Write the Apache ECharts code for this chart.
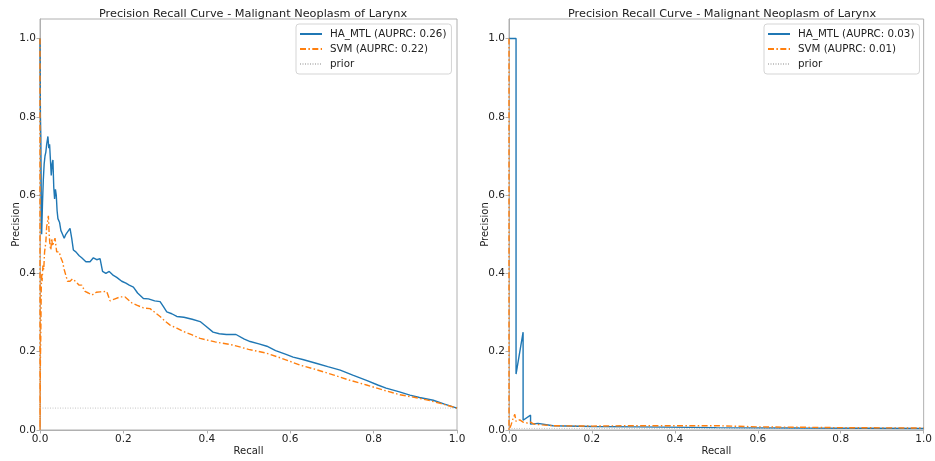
<!DOCTYPE html>
<html>
<head>
<meta charset="utf-8">
<script src="https://cdn.jsdelivr.net/npm/echarts@6/dist/echarts.min.js"></script>
<style>html,body{margin:0;padding:0;background:#fff;}#c{width:935px;height:461px;}</style>
</head>
<body>
<div id="c"></div>
<script>
// ---- data ----
const titleText = 'Precision Recall Curve - Malignant Neoplasm of Larynx';
const xTicks = [0, 0.2, 0.4, 0.6, 0.8, 1.0];
const yTicks = [0, 0.2, 0.4, 0.6, 0.8, 1.0];

const leftNames = ['HA_MTL (AUPRC: 0.26)', 'SVM (AUPRC: 0.22)', 'prior'];
const rightNames = ['HA_MTL (AUPRC: 0.03)', 'SVM (AUPRC: 0.01)', 'prior'];

const leftHaRecall = [0,0.001,0.001,0.002,0.003,0.004,0.006,0.008,0.010,0.012,0.014,0.016,0.019,0.021,0.023,0.025,0.027,0.029,0.031,0.033,0.035,0.037,0.039,0.041,0.043,0.047,0.050,0.054,0.058,0.062,0.066,0.072,0.076,0.080,0.086,0.094,0.100,0.110,0.120,0.128,0.136,0.144,0.150,0.158,0.166,0.176,0.184,0.196,0.206,0.214,0.224,0.234,0.248,0.260,0.275,0.288,0.296,0.304,0.316,0.328,0.345,0.365,0.384,0.398,0.415,0.430,0.447,0.470,0.490,0.504,0.525,0.544,0.565,0.590,0.607,0.630,0.664,0.690,0.720,0.750,0.783,0.810,0.830,0.860,0.887,0.910,0.943,0.970,1.0];
const leftHaPrec = [1.0,1.0,0.80,0.75,0.60,0.50,0.58,0.64,0.68,0.70,0.71,0.73,0.75,0.72,0.73,0.69,0.65,0.68,0.69,0.62,0.59,0.615,0.60,0.56,0.54,0.53,0.51,0.50,0.49,0.50,0.505,0.515,0.49,0.46,0.455,0.445,0.44,0.43,0.43,0.44,0.435,0.438,0.405,0.40,0.405,0.395,0.39,0.38,0.375,0.37,0.365,0.35,0.336,0.335,0.33,0.328,0.315,0.302,0.297,0.29,0.288,0.283,0.277,0.265,0.25,0.246,0.244,0.244,0.232,0.226,0.22,0.214,0.203,0.193,0.186,0.18,0.17,0.162,0.153,0.14,0.127,0.115,0.107,0.098,0.089,0.083,0.076,0.066,0.056];

const leftSvmRecall = [0,0,0.001,0.002,0.003,0.004,0.005,0.007,0.009,0.011,0.014,0.016,0.018,0.020,0.022,0.024,0.026,0.028,0.030,0.033,0.036,0.040,0.046,0.050,0.054,0.058,0.062,0.066,0.072,0.078,0.085,0.094,0.100,0.108,0.116,0.125,0.135,0.144,0.160,0.168,0.180,0.192,0.204,0.220,0.232,0.248,0.264,0.276,0.288,0.300,0.312,0.328,0.343,0.365,0.384,0.420,0.463,0.500,0.544,0.580,0.623,0.660,0.703,0.740,0.783,0.820,0.863,0.900,0.927,0.960,1.0];
const leftSvmPrec = [1.0,0.0,0.18,0.25,0.36,0.40,0.38,0.42,0.41,0.455,0.48,0.52,0.53,0.547,0.50,0.47,0.46,0.49,0.47,0.48,0.49,0.455,0.455,0.44,0.43,0.41,0.395,0.38,0.38,0.386,0.38,0.37,0.37,0.354,0.35,0.345,0.352,0.353,0.354,0.33,0.335,0.34,0.34,0.325,0.319,0.312,0.31,0.30,0.29,0.278,0.268,0.26,0.252,0.243,0.234,0.225,0.217,0.206,0.196,0.183,0.166,0.155,0.141,0.128,0.115,0.103,0.09,0.083,0.077,0.068,0.056];

const rightHaRecall = [0,0.017,0.017,0.034,0.034,0.052,0.052,0.070,0.070,0.106,0.106,0.200,0.307,0.307,0.500,0.700,1.0];
const rightHaPrec = [1.0,1.0,0.143,0.25,0.025,0.038,0.015,0.017,0.012,0.011,0.009,0.009,0.008,0.006,0.006,0.005,0.004];

const rightSvmRecall = [0,0,0.005,0.010,0.014,0.017,0.026,0.034,0.044,0.052,0.060,0.080,0.106,0.200,0.300,0.400,0.500,0.600,0.800,1.0];
const rightSvmPrec = [1.0,0.0,0.013,0.03,0.04,0.022,0.026,0.02,0.018,0.02,0.015,0.013,0.011,0.010,0.011,0.011,0.011,0.008,0.006,0.005];

const priorRecall = [0, 1];
const leftPrior = [0.056, 0.056];
const rightPrior = [0.004, 0.004];

// ---- build ----
const zip = (a, b) => a.map((v, i) => [v, b[i]]);
const FONT = 'DejaVu Sans';
const frame = '#b0b0b0';
const blue = '#1f77b4', orange = '#ff7f0e';

function xAxis(gi) {
  return {
    type: 'value', gridIndex: gi, min: 0, max: 1, interval: 0.2,
    name: 'Recall', nameLocation: 'middle', nameGap: 16, nameMoveOverlap: false,
    nameTextStyle: { fontFamily: FONT, fontSize: 10, color: '#222', verticalAlign: 'top' },
    axisLine: { show: true, lineStyle: { color: frame, width: 1 } },
    axisTick: { show: true, length: 3.5, lineStyle: { color: frame } },
    axisLabel: { fontFamily: FONT, fontSize: 10.5, color: '#222', margin: 4,
      formatter: v => v.toFixed(1) },
    splitLine: { show: false }
  };
}
function yAxis(gi) {
  return {
    type: 'value', gridIndex: gi, min: 0, max: 1.05,
    name: 'Precision', nameLocation: 'middle', nameGap: 19, nameRotate: 90, nameMoveOverlap: false,
    nameTextStyle: { fontFamily: FONT, fontSize: 10, color: '#222' },
    axisLine: { show: true, lineStyle: { color: frame, width: 1 } },
    axisTick: { show: true, length: 3.5, lineStyle: { color: frame }, customValues: yTicks },
    axisLabel: { fontFamily: FONT, fontSize: 10.5, color: '#222', margin: 4,
      customValues: yTicks, formatter: v => v.toFixed(1) },
    splitLine: { show: false }
  };
}
function legend(left, names) {
  return {
    orient: 'vertical', left: left, top: 24,
    data: names,
    backgroundColor: '#fff', borderColor: '#d5d5d5', borderWidth: 1, borderRadius: 3,
    padding: [5, 5, 5, 3],
    itemWidth: 22, itemHeight: 10, itemGap: 5,
    itemStyle: { color: 'rgba(0,0,0,0)', borderColor: 'rgba(0,0,0,0)', borderWidth: 0, opacity: 0 },
    textStyle: { fontFamily: FONT, fontSize: 10.3, color: '#222', padding: [0, 0, 0, 3] }
  };
}
function line(name, data, gi, color, type, width) {
  return {
    name: name, type: 'line', xAxisIndex: gi, yAxisIndex: gi, data: data,
    symbol: 'none', showSymbol: false, animation: false,
    lineStyle: { color: color, width: width, type: type },
    itemStyle: { color: color }
  };
}
const dashDot = [6, 2.4, 1.5, 2.4];
const dotted = [1, 1.5];

const option = {
  animation: false,
  backgroundColor: '#fff',
  title: [
    { text: titleText, left: 248, top: 4, textAlign: 'center',
      textStyle: { fontFamily: FONT, fontSize: 11.3, fontWeight: 'normal', color: '#222' } },
    { text: titleText, left: 717, top: 4, textAlign: 'center',
      textStyle: { fontFamily: FONT, fontSize: 11.3, fontWeight: 'normal', color: '#222' } }
  ],
  legend: [legend(296, leftNames), legend(764, rightNames)],
  grid: [
    { left: 40, right: 478, top: 19, bottom: 29, show: true, borderColor: frame, borderWidth: 1, containLabel: false },
    { left: 509, right: 10, top: 19, bottom: 29, show: true, borderColor: frame, borderWidth: 1, containLabel: false }
  ],
  xAxis: [xAxis(0), xAxis(1)],
  yAxis: [yAxis(0), yAxis(1)],
  series: [
    line(leftNames[2], zip(priorRecall, leftPrior), 0, '#c4c4c4', dotted, 1),
    line(leftNames[0], zip(leftHaRecall, leftHaPrec), 0, blue, 'solid', 1.4),
    line(leftNames[1], zip(leftSvmRecall, leftSvmPrec), 0, orange, dashDot, 1.4),
    line(rightNames[2], zip(priorRecall, rightPrior), 1, '#c4c4c4', dotted, 1),
    line(rightNames[0], zip(rightHaRecall, rightHaPrec), 1, blue, 'solid', 1.4),
    line(rightNames[1], zip(rightSvmRecall, rightSvmPrec), 1, orange, dashDot, 1.4)
  ]
};
const chart = echarts.init(document.getElementById('c'), null, { renderer: 'canvas' });
chart.setOption(option);
</script>
</body>
</html>
